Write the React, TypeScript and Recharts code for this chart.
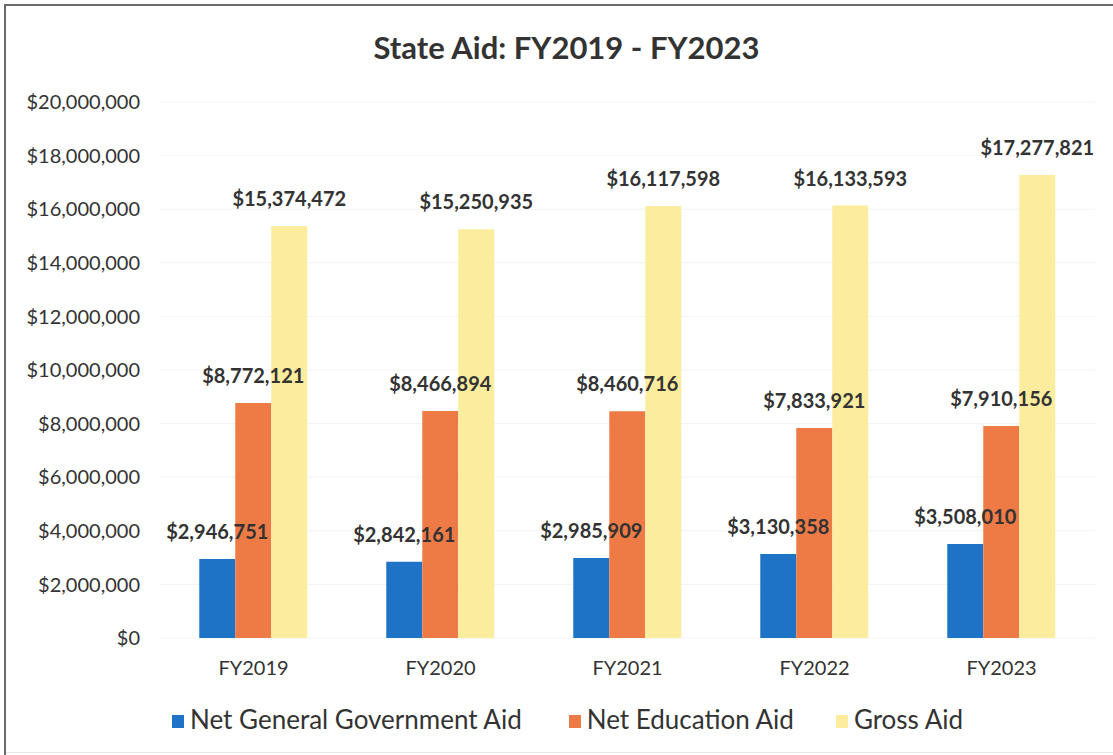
import React from "react";
import { BarChart, Bar, XAxis, YAxis, CartesianGrid, Legend, LabelList } from "recharts";

const categories = ["FY2019", "FY2020", "FY2021", "FY2022", "FY2023"];
const netGeneralGovernmentAid = [2946751, 2842161, 2985909, 3130358, 3508010];
const netEducationAid = [8772121, 8466894, 8460716, 7833921, 7910156];
const grossAid = [15374472, 15250935, 16117598, 16133593, 17277821];
const yTicks = [0, 2000000, 4000000, 6000000, 8000000, 10000000, 12000000, 14000000, 16000000, 18000000, 20000000];
const seriesNames = ["Net General Government Aid", "Net Education Aid", "Gross Aid"];
const seriesColors = ["#1E73C7", "#EE7A45", "#FCEC9E"];

const data = categories.map((c, i) => ({
  name: c,
  gen: netGeneralGovernmentAid[i],
  edu: netEducationAid[i],
  gross: grossAid[i],
}));

const FONT = "Lato, 'Open Sans', sans-serif";
const money = (v: number) => "$" + v.toLocaleString("en-US");

const legendGaps = [47, 42, 0];

const renderLegend = () => (
  <div style={{ display: "flex", justifyContent: "center", fontFamily: FONT, fontSize: 26, color: "#333", lineHeight: "31px", paddingLeft: 40 }}>
    {seriesNames.map((n, i) => (
      <div key={n} style={{ display: "flex", alignItems: "center", marginRight: legendGaps[i] }}>
        <span style={{ display: "inline-block", width: 12, height: 13, background: seriesColors[i], marginRight: 6, marginTop: 3 }} />
        <span>{n}</span>
      </div>
    ))}
  </div>
);

const labelStyle = { fill: "#333", fontSize: 20, fontWeight: 700, fontFamily: FONT };

export default function App() {
  return (
    <div style={{ position: "absolute", left: 0, top: 0, width: 1113, height: 755, background: "#fff", fontFamily: FONT, overflow: "hidden" }}>
      <div style={{ position: "absolute", left: 0, top: 28, width: 1133, textAlign: "center", fontSize: 31, fontWeight: 700, color: "#333" }}>
        State Aid: FY2019 - FY2023
      </div>
      <BarChart
        width={1113}
        height={755}
        data={data}
        margin={{ top: 102, right: 18, left: 0, bottom: 0 }}
        barCategoryGap="21%"
        barGap={0}
      >
        <CartesianGrid vertical={false} stroke="#f3f3f3" />
        <XAxis
          dataKey="name"
          axisLine={false}
          tickLine={false}
          height={66}
          tick={{ fill: "#333", fontSize: 20, fontFamily: FONT }}
          tickMargin={17}
        />
        <YAxis
          width={160}
          domain={[0, 20000000]}
          ticks={yTicks}
          axisLine={false}
          tickLine={false}
          tickFormatter={money}
          tick={{ fill: "#333", fontSize: 20, fontFamily: FONT }}
          tickMargin={14}
        />
        <Legend verticalAlign="bottom" height={51} content={renderLegend} />
        <Bar dataKey="gen" name={seriesNames[0]} fill={seriesColors[0]} isAnimationActive={false}>
          <LabelList dataKey="gen" position="top" offset={20} formatter={money} style={labelStyle} />
        </Bar>
        <Bar dataKey="edu" name={seriesNames[1]} fill={seriesColors[1]} isAnimationActive={false}>
          <LabelList dataKey="edu" position="top" offset={20} formatter={money} style={labelStyle} />
        </Bar>
        <Bar dataKey="gross" name={seriesNames[2]} fill={seriesColors[2]} isAnimationActive={false}>
          <LabelList dataKey="gross" position="top" offset={20} formatter={money} style={labelStyle} />
        </Bar>
      </BarChart>
      <div style={{ position: "absolute", left: 4, top: 4, width: 1109, height: 2, background: "#6a6a6a", zIndex: 2, pointerEvents: "none" }} />
      <div style={{ position: "absolute", left: 4, top: 4, width: 2, height: 751, background: "#6a6a6a", zIndex: 2, pointerEvents: "none" }} />
      <div style={{ position: "absolute", left: 6, top: 752, width: 1107, height: 1, background: "#e6e6e6", zIndex: 2, pointerEvents: "none" }} />
    </div>
  );
}
